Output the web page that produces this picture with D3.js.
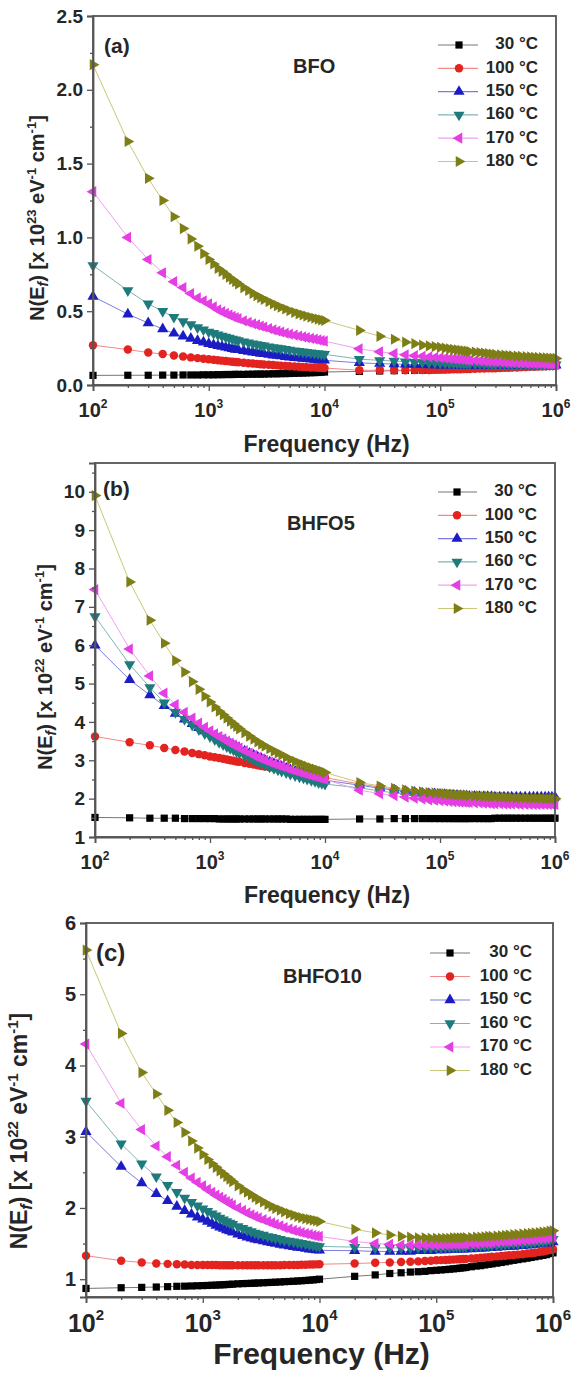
<!DOCTYPE html>
<html><head><meta charset="utf-8">
<script src="https://cdn.jsdelivr.net/npm/d3@7"></script>
<style>html,body{margin:0;padding:0;background:#fff;}svg{display:block;}</style>
</head><body>
<svg id="chart" width="575" height="1373"></svg>
<script>
// Frequencies (Hz) at which points are plotted
const freqs = [100,200,300,400,500,600,700,800,900,
  1000,1100,1200,1300,1400,1500,1600,1700,1800,2000,2200,2400,2600,2800,3000,3300,3600,3900,4200,4600,5000,5500,6000,6500,7000,7600,8200,8800,9400,10000,
  20000,30000,40000,50000,60000,70000,80000,90000,
  100000,110000,120000,130000,140000,150000,160000,170000,180000,200000,220000,240000,260000,280000,300000,330000,360000,390000,420000,460000,500000,550000,600000,650000,700000,760000,820000,880000,940000,1000000];

const tempLabels = ["30 °C","100 °C","150 °C","160 °C","170 °C","180 °C"];
const xTickValues = [1e2,1e3,1e4,1e5,1e6];
const xTickExps = ["2","3","4","5","6"];

// (a) BFO, x 10^23 eV^-1 cm^-1
const bfo30 = [0.065,0.066,0.066,0.067,0.067,0.068,0.068,0.068,0.069,
  0.069,0.069,0.070,0.070,0.071,0.071,0.071,0.072,0.072,0.072,0.073,0.073,0.074,0.074,0.074,0.075,0.076,0.076,0.077,0.077,0.078,0.079,0.080,0.081,0.082,0.083,0.084,0.085,0.087,0.088,
  0.092,0.095,0.097,0.099,0.100,0.101,0.102,0.103,
  0.104,0.105,0.106,0.107,0.108,0.109,0.110,0.110,0.111,0.112,0.113,0.114,0.115,0.116,0.117,0.118,0.119,0.120,0.121,0.122,0.124,0.125,0.126,0.127,0.128,0.130,0.131,0.132,0.134,0.135];
const bfo100 = [0.27,0.24,0.22,0.21,0.20,0.193,0.187,0.182,0.178,
  0.175,0.171,0.168,0.165,0.163,0.160,0.158,0.156,0.154,0.151,0.148,0.146,0.143,0.141,0.139,0.137,0.135,0.133,0.131,0.129,0.127,0.125,0.123,0.122,0.121,0.119,0.118,0.117,0.116,0.115,
  0.100,0.100,0.100,0.100,0.101,0.102,0.102,0.103,
  0.104,0.104,0.105,0.106,0.107,0.107,0.108,0.108,0.109,0.110,0.111,0.112,0.113,0.114,0.114,0.115,0.116,0.117,0.118,0.119,0.121,0.122,0.123,0.124,0.125,0.126,0.127,0.128,0.129,0.130];
const bfo150 = [0.60,0.48,0.42,0.38,0.35,0.33,0.315,0.30,0.29,
  0.280,0.272,0.265,0.260,0.255,0.250,0.245,0.241,0.238,0.232,0.226,0.222,0.218,0.214,0.211,0.206,0.202,0.199,0.196,0.192,0.188,0.185,0.182,0.179,0.177,0.174,0.172,0.170,0.168,0.167,
  0.150,0.145,0.142,0.140,0.138,0.137,0.136,0.135,
  0.134,0.134,0.133,0.133,0.133,0.132,0.132,0.132,0.132,0.132,0.131,0.131,0.131,0.131,0.131,0.131,0.131,0.131,0.131,0.131,0.131,0.132,0.132,0.132,0.132,0.133,0.133,0.133,0.134,0.134];
const bfo160 = [0.81,0.64,0.55,0.50,0.46,0.43,0.41,0.39,0.375,
  0.360,0.350,0.340,0.332,0.325,0.318,0.312,0.307,0.302,0.294,0.287,0.280,0.275,0.270,0.266,0.260,0.255,0.251,0.247,0.243,0.237,0.233,0.229,0.225,0.222,0.219,0.216,0.213,0.210,0.208,
  0.175,0.167,0.162,0.158,0.155,0.153,0.151,0.150,
  0.149,0.148,0.147,0.147,0.146,0.146,0.145,0.145,0.144,0.143,0.143,0.142,0.142,0.141,0.141,0.140,0.140,0.140,0.139,0.139,0.139,0.139,0.138,0.138,0.138,0.138,0.138,0.138,0.138,0.138];
const bfo170 = [1.31,1.00,0.85,0.76,0.70,0.66,0.62,0.59,0.57,
  0.550,0.530,0.510,0.497,0.485,0.475,0.465,0.457,0.450,0.435,0.425,0.415,0.407,0.400,0.393,0.383,0.374,0.366,0.359,0.351,0.345,0.338,0.332,0.326,0.321,0.316,0.311,0.306,0.301,0.297,
  0.245,0.225,0.213,0.205,0.199,0.194,0.190,0.187,
  0.184,0.182,0.179,0.177,0.175,0.173,0.171,0.170,0.168,0.166,0.164,0.162,0.160,0.159,0.158,0.156,0.154,0.153,0.151,0.150,0.148,0.147,0.146,0.145,0.144,0.143,0.142,0.141,0.141,0.140];
const bfo180 = [2.17,1.65,1.40,1.25,1.14,1.06,0.99,0.94,0.89,
  0.85,0.82,0.79,0.77,0.75,0.73,0.715,0.70,0.685,0.66,0.64,0.62,0.605,0.592,0.58,0.565,0.55,0.538,0.527,0.515,0.503,0.492,0.482,0.474,0.467,0.459,0.452,0.446,0.441,0.437,
  0.37,0.33,0.31,0.29,0.28,0.27,0.265,0.26,
  0.255,0.25,0.245,0.241,0.238,0.235,0.232,0.23,0.227,0.223,0.22,0.216,0.213,0.21,0.208,0.205,0.202,0.2,0.198,0.196,0.194,0.192,0.19,0.188,0.187,0.185,0.184,0.183,0.181,0.18];

// (b) BHFO5, x 10^22 eV^-1 cm^-1
const bhfo5_30 = [1.51,1.50,1.49,1.49,1.49,1.48,1.48,1.48,1.48,
  1.48,1.48,1.47,1.47,1.47,1.47,1.47,1.47,1.47,1.47,1.47,1.47,1.47,1.47,1.47,1.47,1.47,1.47,1.47,1.47,1.46,1.46,1.46,1.46,1.46,1.46,1.46,1.46,1.46,1.46,
  1.47,1.47,1.48,1.48,1.48,1.48,1.48,1.48,
  1.48,1.48,1.48,1.48,1.48,1.48,1.48,1.48,1.48,1.48,1.48,1.48,1.48,1.48,1.49,1.49,1.49,1.49,1.49,1.49,1.49,1.49,1.49,1.49,1.49,1.49,1.49,1.49,1.49,1.49];
const bhfo5_100 = [3.62,3.47,3.39,3.32,3.27,3.23,3.19,3.16,3.13,
  3.10,3.08,3.06,3.04,3.02,3.00,2.99,2.97,2.96,2.93,2.91,2.89,2.87,2.85,2.84,2.82,2.80,2.78,2.76,2.73,2.70,2.68,2.67,2.65,2.64,2.62,2.60,2.58,2.57,2.55,
  2.38,2.30,2.25,2.21,2.18,2.16,2.14,2.13,
  2.12,2.11,2.10,2.09,2.08,2.08,2.07,2.07,2.06,2.05,2.05,2.04,2.04,2.03,2.03,2.02,2.02,2.02,2.01,2.01,2.01,2.01,2.00,2.00,2.00,2.00,2.00,2.00,2.00,2.00];
const bhfo5_150 = [6.00,5.10,4.70,4.42,4.22,4.07,3.95,3.85,3.76,
  3.69,3.62,3.56,3.51,3.46,3.42,3.38,3.34,3.31,3.24,3.18,3.13,3.08,3.04,3.00,2.95,2.91,2.87,2.83,2.79,2.75,2.71,2.67,2.64,2.61,2.58,2.55,2.52,2.50,2.48,
  2.35,2.27,2.22,2.19,2.16,2.14,2.13,2.12,
  2.11,2.10,2.09,2.09,2.08,2.08,2.07,2.07,2.06,2.06,2.05,2.05,2.05,2.05,2.04,2.04,2.04,2.04,2.04,2.04,2.04,2.04,2.04,2.04,2.04,2.04,2.04,2.04,2.04,2.04];
const bhfo5_160 = [6.75,5.50,4.90,4.50,4.25,4.07,3.92,3.80,3.70,
  3.62,3.54,3.47,3.41,3.36,3.31,3.27,3.23,3.19,3.12,3.06,3.01,2.96,2.92,2.88,2.83,2.79,2.75,2.72,2.68,2.64,2.60,2.57,2.54,2.51,2.48,2.45,2.42,2.40,2.38,
  2.28,2.20,2.15,2.12,2.09,2.07,2.05,2.04,
  2.03,2.02,2.01,2.00,2.00,1.99,1.99,1.98,1.98,1.97,1.97,1.96,1.96,1.96,1.96,1.95,1.95,1.95,1.95,1.94,1.94,1.94,1.94,1.94,1.94,1.94,1.94,1.94,1.94,1.94];
const bhfo5_170 = [7.45,5.90,5.20,4.75,4.45,4.25,4.10,3.97,3.86,
  3.77,3.69,3.62,3.56,3.50,3.45,3.40,3.36,3.32,3.25,3.19,3.13,3.08,3.04,3.00,2.95,2.91,2.87,2.84,2.80,2.76,2.72,2.69,2.66,2.63,2.60,2.57,2.55,2.52,2.50,
  2.22,2.13,2.08,2.04,2.01,1.99,1.97,1.96,
  1.95,1.94,1.93,1.92,1.92,1.91,1.91,1.90,1.90,1.89,1.89,1.88,1.88,1.87,1.87,1.87,1.86,1.86,1.86,1.86,1.85,1.85,1.85,1.85,1.85,1.85,1.85,1.85,1.85,1.85];
const bhfo5_180 = [9.90,7.65,6.65,6.05,5.60,5.30,5.05,4.85,4.67,
  4.52,4.39,4.28,4.19,4.10,4.02,3.95,3.88,3.82,3.72,3.63,3.55,3.48,3.42,3.37,3.30,3.24,3.19,3.14,3.08,3.02,2.97,2.92,2.88,2.84,2.80,2.77,2.74,2.71,2.68,
  2.42,2.33,2.27,2.23,2.20,2.18,2.16,2.15,
  2.14,2.13,2.12,2.11,2.10,2.10,2.09,2.09,2.08,2.07,2.07,2.06,2.06,2.05,2.05,2.04,2.04,2.03,2.03,2.02,2.02,2.02,2.01,2.01,2.01,2.01,2.00,2.00,2.00,2.00];

// (c) BHFO10, x 10^22 eV^-1 cm^-1
const bhfo10_30 = [0.87,0.88,0.885,0.89,0.895,0.90,0.902,0.905,0.908,
  0.910,0.912,0.915,0.917,0.920,0.922,0.925,0.927,0.930,0.935,0.938,0.940,0.942,0.945,0.947,0.950,0.953,0.955,0.958,0.961,0.965,0.968,0.971,0.975,0.978,0.982,0.986,0.990,0.995,1.000,
  1.04,1.06,1.08,1.09,1.10,1.105,1.11,1.12,
  1.125,1.13,1.135,1.14,1.145,1.15,1.155,1.16,1.165,1.175,1.185,1.19,1.20,1.21,1.215,1.225,1.235,1.245,1.255,1.265,1.275,1.285,1.295,1.305,1.315,1.325,1.335,1.345,1.36,1.37];
const bhfo10_100 = [1.33,1.26,1.235,1.22,1.215,1.21,1.205,1.20,1.20,
  1.20,1.20,1.20,1.198,1.197,1.196,1.195,1.195,1.195,1.195,1.195,1.195,1.195,1.195,1.195,1.195,1.195,1.195,1.195,1.195,1.198,1.20,1.20,1.20,1.202,1.203,1.205,1.206,1.208,1.21,
  1.22,1.23,1.235,1.24,1.245,1.25,1.255,1.26,
  1.265,1.268,1.27,1.273,1.275,1.278,1.28,1.283,1.285,1.29,1.295,1.30,1.305,1.31,1.315,1.32,1.325,1.33,1.335,1.34,1.345,1.35,1.36,1.365,1.37,1.38,1.39,1.40,1.41,1.42];
const bhfo10_150 = [3.07,2.58,2.35,2.20,2.10,2.02,1.96,1.91,1.87,
  1.84,1.81,1.78,1.755,1.73,1.71,1.69,1.675,1.66,1.63,1.61,1.59,1.575,1.56,1.55,1.535,1.52,1.51,1.50,1.485,1.475,1.465,1.455,1.445,1.44,1.43,1.42,1.415,1.41,1.405,
  1.40,1.39,1.39,1.39,1.39,1.40,1.40,1.40,
  1.41,1.41,1.41,1.415,1.415,1.42,1.42,1.42,1.425,1.425,1.43,1.43,1.435,1.44,1.44,1.445,1.45,1.455,1.46,1.46,1.465,1.47,1.475,1.48,1.485,1.49,1.50,1.505,1.51,1.52];
const bhfo10_160 = [3.50,2.90,2.62,2.44,2.32,2.22,2.14,2.08,2.03,
  1.99,1.955,1.92,1.89,1.86,1.835,1.81,1.79,1.77,1.74,1.715,1.69,1.67,1.65,1.635,1.62,1.60,1.59,1.575,1.56,1.545,1.535,1.525,1.515,1.505,1.495,1.485,1.475,1.465,1.46,
  1.45,1.44,1.44,1.44,1.44,1.44,1.44,1.445,
  1.445,1.445,1.45,1.45,1.45,1.455,1.455,1.455,1.46,1.46,1.465,1.47,1.47,1.475,1.48,1.48,1.485,1.49,1.495,1.50,1.50,1.505,1.51,1.515,1.52,1.525,1.53,1.54,1.55,1.56];
const bhfo10_170 = [4.30,3.47,3.10,2.87,2.72,2.60,2.50,2.42,2.36,
  2.31,2.26,2.22,2.18,2.15,2.12,2.09,2.065,2.04,2.00,1.965,1.93,1.905,1.88,1.86,1.835,1.81,1.79,1.77,1.75,1.725,1.705,1.685,1.67,1.655,1.64,1.63,1.615,1.605,1.60,
  1.53,1.50,1.49,1.48,1.48,1.48,1.48,1.48,
  1.48,1.48,1.485,1.485,1.49,1.49,1.49,1.495,1.495,1.50,1.50,1.505,1.51,1.51,1.515,1.52,1.525,1.53,1.53,1.535,1.54,1.545,1.55,1.555,1.56,1.565,1.57,1.575,1.585,1.59];
const bhfo10_180 = [5.62,4.45,3.90,3.60,3.37,3.20,3.06,2.94,2.84,
  2.75,2.68,2.62,2.57,2.52,2.48,2.44,2.405,2.37,2.31,2.26,2.22,2.185,2.15,2.12,2.085,2.05,2.02,1.995,1.97,1.945,1.92,1.90,1.88,1.865,1.85,1.84,1.83,1.82,1.81,
  1.70,1.65,1.62,1.60,1.59,1.58,1.58,1.575,
  1.575,1.575,1.575,1.575,1.58,1.58,1.58,1.58,1.585,1.585,1.59,1.59,1.595,1.60,1.60,1.605,1.61,1.615,1.62,1.625,1.63,1.635,1.64,1.645,1.65,1.655,1.66,1.665,1.675,1.68];

const markerColors = ["#000000","#e3231f","#1c1cc4","#1f7b7b","#e43ee4","#7e7e16"];
const lineColors   = ["#777777","#f08a88","#7c7ce0","#7fb5b5","#f0a0f0","#c8c878"];
const FONT = "'Liberation Sans', Arial, Helvetica, sans-serif";
const TXT = "#262626";

const panels = [
  {series:[bfo30,bfo100,bfo150,bfo160,bfo170,bfo180], name:"BFO", tag:"(a)", exp:"23",
   left:93, right:556, top:16, bottom:385, yDomain:[0,2.5], yTicks:[0,0.5,1,1.5,2,2.5], yFmt:".1f",
   yMinor:[0.25,0.75,1.25,1.75,2.25], tickFs:19, labFs:20, titleFs:20, xTitleFs:23,
   yTitle:{x:44,y:218}, xTitleY:446, xLabY:412, tagPos:[104,53], namePos:[293,73],
   legend:{x1:438,x2:478,sx:459,tx:538,y0:45,dy:23.3}, tagFs:21},
  {series:[bhfo5_30,bhfo5_100,bhfo5_150,bhfo5_160,bhfo5_170,bhfo5_180], name:"BHFO5", tag:"(b)", exp:"22",
   left:95, right:555, top:463, bottom:837, yDomain:[1,10.75], yTicks:[1,2,3,4,5,6,7,8,9,10], yFmt:"d",
   yMinor:[1.5,2.5,3.5,4.5,5.5,6.5,7.5,8.5,9.5,10.5], tickFs:19, labFs:20, titleFs:20, xTitleFs:23,
   yTitle:{x:52,y:667}, xTitleY:897, xLabY:864, tagPos:[103,496], namePos:[287,530],
   legend:{x1:438,x2:477,sx:457,tx:537,y0:492,dy:23.3}, tagFs:21},
  {series:[bhfo10_30,bhfo10_100,bhfo10_150,bhfo10_160,bhfo10_170,bhfo10_180], name:"BHFO10", tag:"(c)", exp:"22",
   left:86, right:553, top:923, bottom:1297, yDomain:[0.75,6], yTicks:[1,2,3,4,5,6], yFmt:"d",
   yMinor:[1.5,2.5,3.5,4.5,5.5], tickFs:20, labFs:25, titleFs:23, xTitleFs:30,
   yTitle:{x:27,y:1131}, xTitleY:1356, xLabY:1325, tagPos:[96,961], namePos:[283,983],
   legend:{x1:430,x2:470,sx:450,tx:532,y0:953,dy:23.5}, tagFs:24}
];

const svg = d3.select("#chart");
svg.append("rect").attr("width",575).attr("height",1373).attr("fill","#fff");

function symbolPath(i) {
  const types = [d3.symbolSquare, d3.symbolCircle, d3.symbolTriangle, d3.symbolTriangle, d3.symbolTriangle, d3.symbolTriangle];
  const sizes = [52, 56, 54, 54, 54, 54];
  return d3.symbol().type(types[i]).size(sizes[i])();
}
const symbolRot = [0, 0, 0, 180, -90, 90];

panels.forEach(p => {
  const g = svg.append("g");
  const x = d3.scaleLog().domain([1e2,1e6]).range([p.left, p.right]);
  const y = d3.scaleLinear().domain(p.yDomain).range([p.bottom, p.top]);

  // data
  p.series.forEach((vals, si) => {
    const pts = freqs.map((f,i) => [f, vals[i]]).filter(d => d[1] !== undefined);
    g.append("path").datum(pts)
      .attr("fill","none").attr("stroke",lineColors[si]).attr("stroke-width",1)
      .attr("d", d3.line().x(d=>x(d[0])).y(d=>y(d[1])));
    g.append("g").selectAll("path").data(pts).join("path")
      .attr("d", symbolPath(si))
      .attr("transform", d => `translate(${x(d[0])},${y(d[1])}) rotate(${symbolRot[si]})`)
      .attr("fill", markerColors[si]);
  });

  // frame
  g.append("rect").attr("x",p.left).attr("y",p.top)
    .attr("width",p.right-p.left).attr("height",p.bottom-p.top)
    .attr("fill","none").attr("stroke","#555").attr("stroke-width",1.8);

  // x axis
  g.append("g").attr("transform",`translate(0,${p.bottom})`)
    .call(d3.axisBottom(x).tickValues(xTickValues).tickSize(6).tickFormat(""));
  const minors = [];
  [1e2,1e3,1e4,1e5].forEach(d => { for (let k=2;k<=9;k++) minors.push(d*k); });
  g.append("g").attr("transform",`translate(0,${p.bottom})`)
    .call(d3.axisBottom(x).tickValues(minors).tickSize(3).tickFormat(""))
    .call(s => s.select(".domain").remove());
  g.selectAll(".domain").attr("stroke","#555").attr("stroke-width",1.8);
  g.selectAll(".tick line").attr("stroke","#555").attr("stroke-width",1.3);

  xTickValues.forEach((v,i) => {
    const t = g.append("text").attr("x", x(v)).attr("y", p.xLabY)
      .attr("text-anchor","middle").attr("dominant-baseline","middle")
      .attr("font-family",FONT).attr("font-weight","bold").attr("font-size",p.labFs).attr("fill",TXT);
    t.append("tspan").text("10");
    t.append("tspan").attr("font-size",p.labFs*0.6).attr("dy",-p.labFs*0.35).text(xTickExps[i]);
  });
  g.append("text").attr("x",(p.left+p.right)/2 + 2).attr("y",p.xTitleY)
    .attr("text-anchor","middle").attr("dominant-baseline","middle")
    .attr("font-family",FONT).attr("font-weight","bold").attr("font-size",p.xTitleFs).attr("fill",TXT)
    .text("Frequency (Hz)");

  // y axis
  const yAx = g.append("g").attr("transform",`translate(${p.left},0)`)
    .call(d3.axisLeft(y).tickValues(p.yTicks).tickSize(6).tickPadding(4).tickFormat(d3.format(p.yFmt)));
  yAx.select(".domain").attr("stroke","#555").attr("stroke-width",1.8);
  yAx.selectAll(".tick line").attr("stroke","#555").attr("stroke-width",1.3);
  yAx.selectAll(".tick text").attr("font-family",FONT).attr("font-weight","bold")
    .attr("font-size",p.tickFs).attr("fill",TXT);
  g.append("g").attr("transform",`translate(${p.left},0)`)
    .call(d3.axisLeft(y).tickValues(p.yMinor).tickSize(3).tickFormat(""))
    .call(s => s.select(".domain").remove())
    .selectAll(".tick line").attr("stroke","#555").attr("stroke-width",1.3);

  // y title
  const fs = p.titleFs;
  const yt = g.append("text")
    .attr("transform",`translate(${p.yTitle.x},${p.yTitle.y}) rotate(-90)`)
    .attr("text-anchor","middle")
    .attr("font-family",FONT).attr("font-weight","bold").attr("font-size",fs).attr("fill",TXT);
  yt.append("tspan").text("N(E");
  yt.append("tspan").attr("font-style","italic").attr("font-size",fs*0.7).attr("dy",fs*0.2).text("f");
  yt.append("tspan").attr("dy",-fs*0.2).text(") [x 10");
  yt.append("tspan").attr("font-size",fs*0.65).attr("dy",-fs*0.4).text(p.exp);
  yt.append("tspan").attr("dy",fs*0.4).text(" eV");
  yt.append("tspan").attr("font-size",fs*0.65).attr("dy",-fs*0.4).text("-1");
  yt.append("tspan").attr("dy",fs*0.4).text(" cm");
  yt.append("tspan").attr("font-size",fs*0.65).attr("dy",-fs*0.4).text("-1");
  yt.append("tspan").attr("dy",fs*0.4).text("]");

  // panel tag & sample name
  g.append("text").attr("x",p.tagPos[0]).attr("y",p.tagPos[1])
    .attr("font-family",FONT).attr("font-weight","bold").attr("font-size",p.tagFs).attr("fill",TXT).text(p.tag);
  g.append("text").attr("x",p.namePos[0]).attr("y",p.namePos[1])
    .attr("font-family",FONT).attr("font-weight","bold").attr("font-size",20).attr("fill",TXT).text(p.name);

  // legend
  const L = p.legend;
  tempLabels.forEach((lab, i) => {
    const yy = L.y0 + i*L.dy;
    g.append("line").attr("x1",L.x1).attr("x2",L.x2).attr("y1",yy).attr("y2",yy)
      .attr("stroke",lineColors[i]).attr("stroke-width",1.2);
    g.append("path").attr("d",symbolPath(i))
      .attr("transform",`translate(${L.sx},${yy}) rotate(${symbolRot[i]})`)
      .attr("fill",markerColors[i]);
    g.append("text").attr("x",L.tx).attr("y",yy).attr("text-anchor","end")
      .attr("dominant-baseline","middle")
      .attr("font-family",FONT).attr("font-weight","bold").attr("font-size",17).attr("fill",TXT)
      .text(lab);
  });
});
</script>
</body></html>
